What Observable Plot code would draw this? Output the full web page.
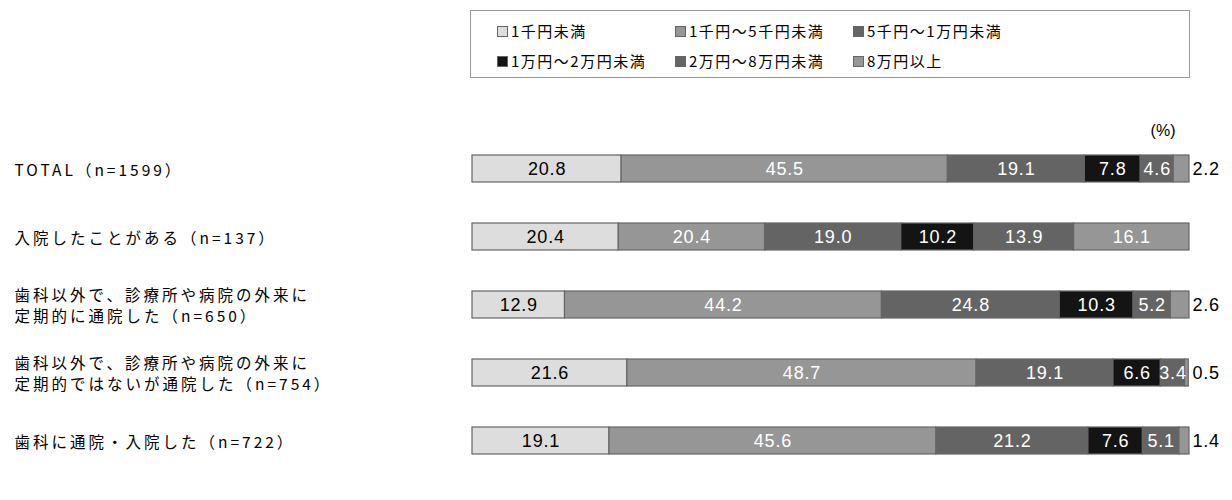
<!DOCTYPE html>
<html>
<head>
<meta charset="utf-8">
<script src="https://cdn.jsdelivr.net/npm/d3@7"></script>
<script src="https://cdn.jsdelivr.net/npm/@observablehq/plot@0.6"></script>
<style>
  body { margin: 0; background: #fff; font-family: "Noto Sans CJK JP", sans-serif; }
  #wrap { position: relative; width: 1232px; height: 500px; }
  #legend { position: absolute; left: 470px; top: 10px; width: 718px; height: 66px; border: 1px solid #999; box-sizing: content-box; }
  .item { position: absolute; font-size: 15px; letter-spacing: 1.5px; color: #000; line-height: 20px; white-space: nowrap; }
  .sw { display: inline-block; width: 9px; height: 9px; border: 1px solid #666; margin-right: 3px; vertical-align: 0px; }
  #plot { position: absolute; left: 0; top: 90px; }
</style>
</head>
<body>
<div id="wrap">
  <div id="legend"></div>
  <div id="plot"></div>
</div>
<script>
const categories = [
  "TOTAL（n=1599）",
  "入院したことがある（n=137）",
  "歯科以外で、診療所や病院の外来に\n定期的に通院した（n=650）",
  "歯科以外で、診療所や病院の外来に\n定期的ではないが通院した（n=754）",
  "歯科に通院・入院した（n=722）"
];
const bands = ["1千円未満", "1千円～5千円未満", "5千円～1万円未満", "1万円～2万円未満", "2万円～8万円未満", "8万円以上"];
const colors = ["#dddddd", "#969696", "#646464", "#141414", "#646464", "#969696"];
const values = [
  [20.8, 45.5, 19.1, 7.8, 4.6, 2.2],
  [20.4, 20.4, 19.0, 10.2, 13.9, 16.1],
  [12.9, 44.2, 24.8, 10.3, 5.2, 2.6],
  [21.6, 48.7, 19.1, 6.6, 3.4, 0.5],
  [19.1, 45.6, 21.2, 7.6, 5.1, 1.4]
];

// legend
const legend = document.getElementById("legend");
bands.forEach((b, i) => {
  const d = document.createElement("div");
  d.className = "item";
  d.style.left = (26 + (i % 3) * 178) + "px";
  d.style.top = (i < 3 ? 10 : 40) + "px";
  d.innerHTML = `<span class="sw" style="background:${colors[i]}"></span>${b}`;
  legend.appendChild(d);
});

const data = [];
categories.forEach((c, ci) => {
  bands.forEach((b, bi) => {
    data.push({cat: c, band: b, value: values[ci][bi], idx: bi, last: bi === bands.length - 1});
  });
});
const inside = data.filter(d => !(d.last && d.value < 3));
const outside = data.filter(d => d.last && d.value < 3);
const stackOpts = {x: "value", y: "cat", z: "band", order: null};

const chart = Plot.plot({
  width: 1232,
  height: 410,
  marginLeft: 472,
  marginRight: 43,
  marginTop: 44,
  marginBottom: 24,
  x: {domain: [0, 100], axis: null},
  y: {domain: categories, axis: null, paddingInner: 0.6, paddingOuter: 0.3},
  color: {domain: bands, range: colors},
  style: {fontFamily: "'Liberation Sans', Arial, sans-serif", background: "#fff"},
  marks: [
    Plot.barX(data, Plot.stackX({...stackOpts, fill: "band", stroke: "#666", strokeWidth: 1.2, inset: 0})),
    Plot.text(inside, Plot.stackX({...stackOpts, text: d => d.value.toFixed(1),
      fill: d => d.idx === 0 ? "#000" : "#fff", fontSize: 18})),
    Plot.text(outside, {x: () => 100, y: "cat", text: d => d.value.toFixed(1), textAnchor: "start", dx: 3, fontSize: 18, fill: "#000"}),
    Plot.text(categories, {y: d => d, text: d => d, frameAnchor: "left", textAnchor: "start", dx: -458,
      fontSize: 15.5, lineHeight: 1.32, fill: "#000", fontFamily: "'Noto Sans CJK JP', sans-serif"}),
    Plot.text(["(%)"], {frameAnchor: "top-right", text: d => d, dx: -14, dy: -10, fontSize: 16, fill: "#000"})
  ]
});
const textGroups = chart.querySelectorAll("g[aria-label='text']");
if (textGroups[0]) textGroups[0].setAttribute("letter-spacing", "0.8");
if (textGroups[1]) textGroups[1].setAttribute("letter-spacing", "0.8");
if (textGroups[2]) textGroups[2].setAttribute("letter-spacing", "3");
document.getElementById("plot").appendChild(chart);
</script>
</body>
</html>
